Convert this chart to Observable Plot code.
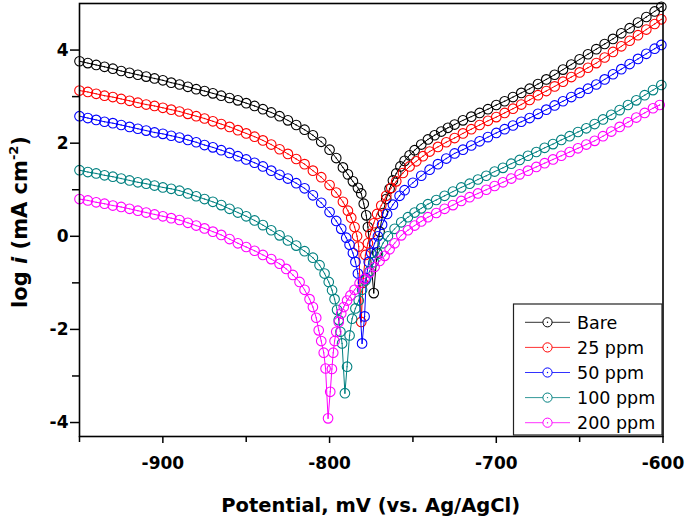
<!DOCTYPE html>
<html><head><meta charset="utf-8">
<script src="https://cdn.jsdelivr.net/npm/d3@7"></script>
<script src="https://cdn.jsdelivr.net/npm/@observablehq/plot@0.6"></script>
<style>body{margin:0;background:#fff} #chart svg{display:block}</style>
</head><body><div id="chart"></div>
<script>
const seriesNames = ["Bare", "25 ppm", "50 ppm", "100 ppm", "200 ppm"];
const seriesColors = ["#000000", "#ff0000", "#0000ff", "#008080", "#ff00ff"];

// [potential mV, log i]
const bare = [[-950,3.76],[-945,3.72],[-940,3.68],[-935,3.64],[-930,3.60],[-925,3.55],[-920,3.51],[-915,3.47],[-910,3.43],[-905,3.39],[-900,3.35],[-895,3.30],[-890,3.26],[-885,3.21],[-880,3.16],[-875,3.12],[-870,3.07],[-865,3.02],[-860,2.97],[-855,2.92],[-850,2.86],[-845,2.80],[-840,2.73],[-835,2.66],[-830,2.58],[-825,2.49],[-820,2.39],[-815,2.29],[-810,2.17],[-805,2.03],[-800,1.86],[-796,1.68],[-792,1.48],[-789,1.33],[-786,1.18],[-783,1.04],[-781,0.92],[-779.5,0.70],[-778,0.45],[-777,0.20],[-773.5,-1.22],[-771.5,-0.35],[-770,0.10],[-768,0.50],[-766,0.80],[-764,1.02],[-762,1.20],[-760,1.35],[-757.5,1.50],[-755,1.62],[-752,1.74],[-749,1.85],[-745,1.97],[-741,2.08],[-737,2.17],[-733,2.25],[-729,2.33],[-725,2.40],[-720,2.49],[-715,2.57],[-710,2.65],[-705,2.73],[-700,2.82],[-695,2.90],[-690,2.99],[-685,3.08],[-680,3.17],[-675,3.27],[-670,3.37],[-665,3.47],[-660,3.58],[-655,3.69],[-650,3.80],[-645,3.91],[-640,4.02],[-635,4.13],[-630,4.24],[-625,4.36],[-620,4.47],[-615,4.59],[-610,4.71],[-605,4.83],[-601,4.93]];
const ppm25 = [[-950,3.13],[-945,3.10],[-940,3.06],[-935,3.02],[-930,2.99],[-925,2.95],[-920,2.91],[-915,2.87],[-910,2.83],[-905,2.80],[-900,2.76],[-895,2.72],[-890,2.68],[-885,2.63],[-880,2.58],[-875,2.53],[-870,2.47],[-865,2.41],[-860,2.35],[-855,2.28],[-850,2.21],[-845,2.14],[-840,2.06],[-835,1.97],[-830,1.87],[-825,1.77],[-820,1.66],[-815,1.55],[-810,1.41],[-805,1.27],[-800,1.10],[-796,0.94],[-792,0.74],[-789,0.55],[-787,0.40],[-785,0.20],[-783.5,0.00],[-782.5,-0.22],[-781,-1.84],[-780,-1.00],[-778.5,-0.40],[-777,-0.15],[-775.5,0.05],[-773.5,0.28],[-771.5,0.48],[-769,0.66],[-766,0.87],[-763,1.04],[-760,1.18],[-756,1.36],[-752,1.50],[-748,1.61],[-744,1.72],[-740,1.82],[-735,1.92],[-730,2.02],[-725,2.11],[-720,2.21],[-715,2.30],[-710,2.39],[-705,2.48],[-700,2.56],[-695,2.65],[-690,2.74],[-685,2.83],[-680,2.93],[-675,3.03],[-670,3.12],[-665,3.22],[-660,3.32],[-655,3.42],[-650,3.52],[-645,3.62],[-640,3.72],[-635,3.84],[-630,3.96],[-625,4.08],[-620,4.20],[-615,4.32],[-610,4.44],[-605,4.56],[-601,4.66]];
const ppm50 = [[-950,2.58],[-945,2.54],[-940,2.50],[-935,2.46],[-930,2.43],[-925,2.39],[-920,2.35],[-915,2.31],[-910,2.27],[-905,2.23],[-900,2.20],[-895,2.16],[-890,2.12],[-885,2.07],[-880,2.02],[-875,1.96],[-870,1.91],[-865,1.85],[-860,1.79],[-855,1.72],[-850,1.65],[-845,1.58],[-840,1.50],[-835,1.41],[-830,1.32],[-825,1.24],[-820,1.14],[-815,1.03],[-810,0.88],[-805,0.72],[-800,0.52],[-796,0.33],[-793,0.16],[-790,-0.03],[-788,-0.18],[-786,-0.36],[-784.5,-0.55],[-783,-0.80],[-780.5,-2.30],[-779,-1.72],[-778,-0.90],[-776.5,-0.55],[-775,-0.36],[-773,-0.15],[-771,0.00],[-768.5,0.25],[-765.5,0.48],[-762,0.68],[-758,0.87],[-755,0.99],[-750,1.15],[-745,1.30],[-740,1.43],[-735,1.55],[-730,1.67],[-725,1.78],[-720,1.86],[-715,1.95],[-710,2.04],[-705,2.13],[-700,2.22],[-695,2.30],[-690,2.38],[-685,2.46],[-680,2.54],[-675,2.63],[-670,2.72],[-665,2.81],[-660,2.90],[-655,2.99],[-650,3.08],[-645,3.17],[-640,3.26],[-635,3.37],[-630,3.48],[-625,3.59],[-620,3.70],[-615,3.81],[-610,3.92],[-605,4.03],[-601,4.11]];
const ppm100 = [[-950,1.42],[-945,1.38],[-940,1.35],[-935,1.31],[-930,1.28],[-925,1.24],[-920,1.20],[-915,1.16],[-910,1.13],[-905,1.09],[-900,1.05],[-895,1.02],[-890,0.98],[-885,0.92],[-880,0.86],[-875,0.80],[-870,0.74],[-865,0.67],[-860,0.59],[-855,0.51],[-850,0.43],[-845,0.34],[-840,0.24],[-835,0.13],[-830,0.02],[-825,-0.09],[-820,-0.20],[-815,-0.32],[-810,-0.46],[-806,-0.62],[-803,-0.80],[-800.5,-0.98],[-798.5,-1.16],[-797,-1.35],[-795.5,-1.58],[-794.5,-1.80],[-793.5,-2.05],[-792.5,-2.30],[-790.8,-3.37],[-789.5,-2.80],[-788,-2.13],[-786.5,-1.77],[-784.5,-1.55],[-782.5,-1.38],[-780.5,-1.15],[-778.5,-0.95],[-776,-0.75],[-773.5,-0.55],[-771,-0.38],[-768,-0.15],[-765,0.00],[-761,0.16],[-757,0.30],[-753,0.41],[-749,0.51],[-745,0.60],[-741,0.69],[-736,0.78],[-731,0.87],[-726,0.96],[-721,1.05],[-716,1.13],[-711,1.22],[-706,1.30],[-701,1.39],[-696,1.47],[-691,1.56],[-686,1.64],[-681,1.73],[-676,1.81],[-671,1.90],[-666,1.98],[-661,2.07],[-656,2.15],[-651,2.24],[-646,2.32],[-641,2.41],[-636,2.51],[-631,2.61],[-626,2.71],[-621,2.82],[-616,2.92],[-611,3.03],[-606,3.14],[-601,3.25]];
const ppm200 = [[-950,0.80],[-945,0.77],[-940,0.73],[-935,0.70],[-930,0.66],[-925,0.63],[-920,0.59],[-915,0.55],[-910,0.51],[-905,0.47],[-900,0.43],[-895,0.39],[-890,0.35],[-885,0.29],[-880,0.23],[-875,0.17],[-870,0.10],[-865,0.03],[-860,-0.06],[-855,-0.15],[-850,-0.23],[-845,-0.31],[-840,-0.40],[-835,-0.49],[-830,-0.59],[-826,-0.70],[-822,-0.83],[-818,-0.98],[-815,-1.15],[-812,-1.35],[-810,-1.52],[-808,-1.75],[-806.5,-2.02],[-805,-2.25],[-803.5,-2.50],[-802.4,-2.84],[-800.9,-3.91],[-799.6,-3.34],[-798.6,-2.85],[-797.8,-2.50],[-797,-2.25],[-796,-2.05],[-794.5,-1.84],[-793,-1.66],[-791.5,-1.52],[-789.5,-1.38],[-787.5,-1.27],[-785,-1.15],[-782,-1.01],[-779,-0.91],[-776,-0.78],[-773,-0.66],[-770,-0.53],[-767,-0.42],[-764,-0.28],[-761,-0.15],[-757,0.02],[-753,0.13],[-749,0.23],[-745,0.32],[-741,0.41],[-736,0.50],[-731,0.59],[-726,0.67],[-721,0.76],[-716,0.84],[-711,0.92],[-706,1.00],[-701,1.08],[-696,1.16],[-691,1.24],[-686,1.33],[-681,1.41],[-676,1.49],[-671,1.57],[-666,1.65],[-661,1.73],[-656,1.81],[-651,1.89],[-646,1.97],[-641,2.05],[-636,2.15],[-631,2.25],[-626,2.35],[-621,2.45],[-616,2.55],[-611,2.65],[-606,2.75],[-602,2.82]];

const xTicks = [-900, -800, -700, -600];
const xMinorTicks = [-950, -850, -750, -650];
const yTicks = [-4, -2, 0, 2, 4];
const yMinorTicks = [-3, -1, 1, 3];
const xTitle = "Potential, mV (vs. Ag/AgCl)";

const curves = [bare, ppm25, ppm50, ppm100, ppm200];
const rows = curves.flatMap((c, k) => c.map(([E, I]) => ({series: seriesNames[k], E, I})));

const marks = [];
seriesNames.forEach((name, k) => {
  const d = rows.filter(r => r.series === name);
  marks.push(Plot.line(d, {x: "E", y: "I", stroke: seriesColors[k], strokeWidth: 1}));
  marks.push(Plot.dot(d, {x: "E", y: "I", r: 4.8, stroke: seriesColors[k], strokeWidth: 1.1, fill: "none"}));
  marks.push(Plot.dot(d, {x: "E", y: "I", r: 0.7, fill: seriesColors[k], stroke: "none"}));
});

const chart = Plot.plot({
  width: 685, height: 523,
  marginLeft: 79, marginRight: 22.5, marginTop: 3, marginBottom: 87,
  style: {fontFamily: "DejaVu Sans", fontSize: "17px", fontWeight: "bold", color: "black", background: "white", overflow: "visible"},
  x: {domain: [-950, -600], label: null},
  y: {domain: [-4.3, 5], label: null},
  marks: [
    ...marks,
    Plot.axisX(xTicks, {tickSize: 7, tickPadding: 13, tickFormat: d => String(d), strokeWidth: 1.5, label: null}),
    Plot.axisX(xMinorTicks, {tickSize: 6, tickFormat: () => "", strokeWidth: 1.5, label: null}),
    Plot.axisY(yTicks, {tickSize: 9, tickPadding: 2, tickFormat: d => String(d), strokeWidth: 1.5, label: null}),
    Plot.axisY(yMinorTicks, {tickSize: 7, tickFormat: () => "", strokeWidth: 1.5, label: null}),
    Plot.frame({stroke: "black", strokeWidth: 1.6})
  ]
});
document.getElementById("chart").append(chart);

const svg = d3.select(chart);
// x title
svg.append("text")
  .attr("x", (79 + 662.5) / 2).attr("y", 512)
  .attr("text-anchor", "middle")
  .attr("font-family", "DejaVu Sans").attr("font-weight", "bold").attr("font-size", 19.5)
  .attr("fill", "black")
  .text(xTitle);
// y title
const yt = svg.append("text")
  .attr("transform", "translate(27,222) rotate(-90)")
  .attr("text-anchor", "middle")
  .attr("font-family", "DejaVu Sans").attr("font-weight", "bold").attr("font-size", 21)
  .attr("fill", "black");
yt.append("tspan").text("log ");
yt.append("tspan").attr("font-style", "italic").text("i");
yt.append("tspan").text(" (mA cm");
yt.append("tspan").attr("font-size", 13).attr("dy", -9).text("-2");
yt.append("tspan").attr("dy", 9).text(")");

// legend
const lg = svg.append("g");
lg.append("rect").attr("x", 513.5).attr("y", 304).attr("width", 148.5).attr("height", 131)
  .attr("fill", "white").attr("stroke", "#222").attr("stroke-width", 1.2);
seriesNames.forEach((name, k) => {
  const cy = 322.3 + k * 25.1;
  lg.append("line").attr("x1", 525).attr("x2", 570).attr("y1", cy).attr("y2", cy)
    .attr("stroke", seriesColors[k]).attr("stroke-width", 1).attr("opacity", 0.8);
  lg.append("circle").attr("cx", 547.5).attr("cy", cy).attr("r", 4.6)
    .attr("fill", "white").attr("stroke", seriesColors[k]).attr("stroke-width", 1);
  lg.append("circle").attr("cx", 547.5).attr("cy", cy).attr("r", 0.7).attr("fill", seriesColors[k]);
  lg.append("text").attr("x", 577).attr("y", cy + 6.3)
    .attr("text-anchor", "start")
    .attr("font-family", "DejaVu Sans").attr("font-weight", "normal").attr("font-size", 17.5)
    .attr("fill", "black").text(name);
});
</script>
</body></html>
